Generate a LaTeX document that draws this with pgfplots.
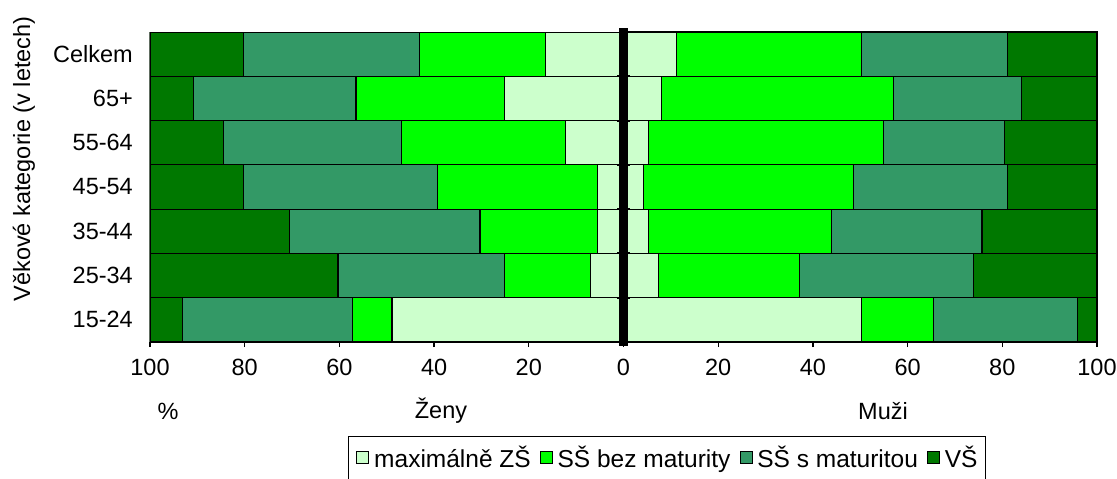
\documentclass[border=0pt]{standalone}
\usepackage{fontspec}
\setmainfont{Liberation Sans}
\usepackage{pgfplots}
\usepackage{pgfplotstable}
\pgfplotsset{compat=1.18}

\definecolor{zs}{RGB}{204,255,204}
\definecolor{ssbez}{RGB}{0,255,0}
\definecolor{sss}{RGB}{51,153,102}
\definecolor{vs}{RGB}{0,120,0}

% rows: 0=15-24, 1=25-34, 2=35-44, 3=45-54, 4=55-64, 5=65+, 6=Celkem
\pgfplotstableread{
y zs bez s vs
0 -48.9 -8.4 -35.9 -6.8
1 -7.0 -18.2 -35.1 -39.7
2 -5.4 -24.9 -40.2 -29.5
3 -5.4 -33.8 -41.0 -19.8
4 -12.2 -34.6 -37.6 -15.6
5 -25.2 -31.3 -34.3 -9.2
6 -16.4 -26.7 -37.1 -19.8
}\women

\pgfplotstableread{
y zs bez s vs
0 50.3 15.1 30.5 4.1
1 7.3 29.9 36.8 26.0
2 5.2 38.8 31.7 24.3
3 4.2 44.4 32.5 18.9
4 5.2 49.7 25.5 19.6
5 8.1 48.9 27.1 15.9
6 11.1 39.2 30.8 18.9
}\men

\pgfplotsset{
  common/.style={
    scale only axis, width=947pt, height=310pt,
    at={(150pt,-342pt)}, anchor=south west,
    xmin=-100, xmax=100, ymin=-0.5, ymax=6.5,
    xbar stacked, bar width=44.29pt,
    every axis plot/.append style={draw=black, line width=1.1pt},
  }
}

\begin{document}
\begin{tikzpicture}[font=\fontsize{23.5}{27}\selectfont]
\path[use as bounding box] (0pt,0pt) rectangle (1117pt,-479pt);

\begin{axis}[common,
  axis x line*=bottom, axis y line*=left,
  x axis line style={black, line width=1.6pt},
  y axis line style={gray, line width=1.2pt},
  xtick={-100,-80,...,100},
  xticklabels={100,80,60,40,20,0,20,40,60,80,100},
  /pgf/number format/assume math mode=true,
  tick align=outside,
  major tick length=5pt,
  x tick style={black, line width=1.3pt},
  ytick={0,...,6},
  yticklabels={15-24,25-34,35-44,45-54,55-64,65+,Celkem},
  y tick style={draw=none},
  yticklabel style={inner sep=0pt, anchor=east, xshift=-12pt},
  xticklabel style={inner sep=0pt, anchor=north, yshift=-12pt},
  legend style={at={(0.209,-0.303)}, anchor=north west, legend columns=4,
    draw=black, line width=1pt, inner xsep=8pt, inner ysep=8pt,
    font=\fontsize{24.5}{28}\selectfont,
    nodes={inner xsep=0pt},
    /tikz/every odd column/.append style={column sep=5pt},
    /tikz/every even column/.append style={column sep=9pt}},
  legend image code/.code={\draw[#1, line width=0.8pt, draw=black] (0pt,-6pt) rectangle (12pt,6pt);},
]
\addplot[fill=zs] table[x=zs, y=y] {\women};
\addplot[fill=ssbez] table[x=bez, y=y] {\women};
\addplot[fill=sss] table[x=s, y=y] {\women};
\addplot[fill=vs] table[x=vs, y=y] {\women};
\legend{maximálně ZŠ, SŠ bez maturity, SŠ s maturitou, VŠ}
\end{axis}

\begin{axis}[common, hide axis, clip=false]
\addplot[fill=zs] table[x=zs, y=y] {\men};
\addplot[fill=ssbez] table[x=bez, y=y] {\men};
\addplot[fill=sss] table[x=s, y=y] {\men};
\addplot[fill=vs] table[x=vs, y=y] {\men};
\coordinate (zb) at (axis cs:0,-0.58);
\coordinate (zt) at (axis cs:0,6.58);
\coordinate (n1) at (axis cs:0,0.5);
\coordinate (n2) at (axis cs:0,1.5);
\coordinate (n3) at (axis cs:0,2.5);
\coordinate (n4) at (axis cs:0,3.5);
\coordinate (n5) at (axis cs:0,4.5);
\coordinate (n6) at (axis cs:0,5.5);
\end{axis}

\draw[line width=8.5pt] (zb) -- (zt);
\foreach \k in {1,...,6} {
  \draw[line width=2pt] ([xshift=-6.5pt]n\k) -- ([xshift=6.5pt]n\k);
}

\node[rotate=90] at (24pt,-159pt) {Věkové kategorie (v letech)};
\node at (168pt,-411pt) {\%};
\node at (441pt,-411pt) {Ženy};
\node at (883pt,-411pt) {Muži};
\end{tikzpicture}
\end{document}
